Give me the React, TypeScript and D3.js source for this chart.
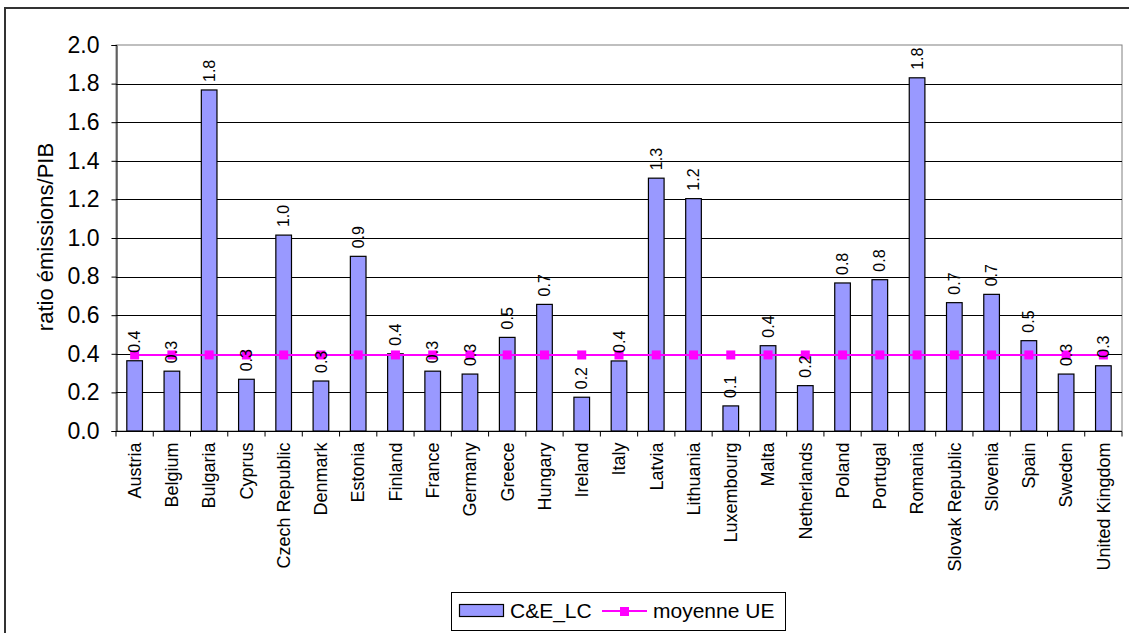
import React, { useEffect, useRef } from 'react';
import * as d3 from 'd3';

const countries = [
  'Austria', 'Belgium', 'Bulgaria', 'Cyprus', 'Czech Republic', 'Denmark', 'Estonia',
  'Finland', 'France', 'Germany', 'Greece', 'Hungary', 'Ireland', 'Italy', 'Latvia',
  'Lithuania', 'Luxembourg', 'Malta', 'Netherlands', 'Poland', 'Portugal', 'Romania',
  'Slovak Republic', 'Slovenia', 'Spain', 'Sweden', 'United Kingdom',
];
const ratioValues = [
  0.364, 0.31, 1.767, 0.268, 1.015, 0.259, 0.905,
  0.4, 0.31, 0.295, 0.485, 0.656, 0.175, 0.363, 1.31,
  1.204, 0.13, 0.442, 0.235, 0.767, 0.784, 1.83,
  0.665, 0.708, 0.468, 0.295, 0.338,
];
const euAverage = countries.map(() => 0.394);
const yTicks = [0, 0.2, 0.4, 0.6, 0.8, 1.0, 1.2, 1.4, 1.6, 1.8, 2.0];

const W = 1129;
const H = 633;
const PLOT = { left: 116, right: 1122, top: 45, bottom: 431 };
const FONT = '"Liberation Sans", Arial, sans-serif';

const App = () => {
  const svgRef = useRef<SVGSVGElement | null>(null);

  useEffect(() => {
    if (!svgRef.current) return;
    const svg = d3.select(svgRef.current);
    svg.selectAll('*').remove();

    const x = d3.scaleBand().domain(countries).range([PLOT.left, PLOT.right]);
    const y = d3.scaleLinear().domain([0, 2]).range([PLOT.bottom, PLOT.top]);
    const barW = x.bandwidth() * 0.42;

    // outer frame
    svg.append('rect')
      .attr('x', 5).attr('y', 8).attr('width', W).attr('height', H)
      .attr('fill', '#fff').attr('stroke', '#333').attr('stroke-width', 2);

    // plot border (grey top/right)
    svg.append('rect')
      .attr('x', PLOT.left).attr('y', PLOT.top)
      .attr('width', PLOT.right - PLOT.left).attr('height', PLOT.bottom - PLOT.top)
      .attr('fill', 'none').attr('stroke', '#808080').attr('stroke-width', 1);

    // gridlines
    svg.append('g').selectAll('line')
      .data(yTicks.slice(1, -1))
      .enter().append('line')
      .attr('x1', PLOT.left).attr('x2', PLOT.right)
      .attr('y1', d => Math.round(y(d)) + 0.5).attr('y2', d => Math.round(y(d)) + 0.5)
      .attr('stroke', '#000').attr('stroke-width', 1);

    // y axis
    const yAxis = d3.axisLeft(y).tickValues(yTicks).tickSize(5).tickPadding(12)
      .tickFormat(d => d3.format('.1f')(d as number));
    const yg = svg.append('g').attr('transform', `translate(${PLOT.left + 0.5},0)`).call(yAxis);
    yg.selectAll('text').attr('font-family', FONT).attr('font-size', 23).attr('fill', '#000');
    yg.selectAll('line,path').attr('stroke', '#000');

    // x axis
    const xg = svg.append('g').attr('transform', `translate(0,${PLOT.bottom + 0.5})`);
    xg.append('line').attr('x1', PLOT.left).attr('x2', PLOT.right).attr('stroke', '#000');
    xg.selectAll('.tick')
      .data(d3.range(countries.length + 1))
      .enter().append('line')
      .attr('x1', i => PLOT.left + i * x.step()).attr('x2', i => PLOT.left + i * x.step())
      .attr('y1', 0).attr('y2', 5).attr('stroke', '#000');
    xg.selectAll('text')
      .data(countries)
      .enter().append('text')
      .attr('transform', d => `translate(${x(d)! + x.bandwidth() / 2},11) rotate(-90)`)
      .attr('text-anchor', 'end')
      .attr('dy', '0.35em')
      .attr('font-family', FONT).attr('font-size', 18)
      .text(d => d);

    // bars
    svg.append('g').selectAll('rect')
      .data(ratioValues)
      .enter().append('rect')
      .attr('x', (d, i) => x(countries[i])! + (x.bandwidth() - barW) / 2)
      .attr('y', d => y(d))
      .attr('width', barW)
      .attr('height', d => y(0) - y(d))
      .attr('fill', '#9999FF').attr('stroke', '#000').attr('stroke-width', 1.2);

    // EU average line + markers
    const line = d3.line<number>()
      .x((d, i) => x(countries[i])! + x.bandwidth() / 2)
      .y(d => y(d));
    svg.append('path').datum(euAverage)
      .attr('d', line).attr('fill', 'none').attr('stroke', '#FF00FF').attr('stroke-width', 2);
    svg.append('g').selectAll('rect')
      .data(euAverage)
      .enter().append('rect')
      .attr('x', (d, i) => x(countries[i])! + x.bandwidth() / 2 - 4.5)
      .attr('y', d => y(d) - 4.5)
      .attr('width', 9).attr('height', 9)
      .attr('fill', '#FF00FF');

    // data labels
    svg.append('g').selectAll('text')
      .data(ratioValues)
      .enter().append('text')
      .attr('transform', (d, i) => `translate(${x(countries[i])! + x.bandwidth() / 2},${y(d) - 8}) rotate(-90)`)
      .attr('text-anchor', 'start')
      .attr('dy', '0.35em')
      .attr('font-family', FONT).attr('font-size', 16)
      .text(d => d3.format('.1f')(d));

    // y axis title
    svg.append('text')
      .attr('transform', `translate(45,237) rotate(-90)`)
      .attr('text-anchor', 'middle')
      .attr('dy', '0.35em')
      .attr('font-family', FONT).attr('font-size', 22)
      .text('ratio émissions/PIB');

    // legend
    const lg = svg.append('g');
    lg.append('rect')
      .attr('x', 451.5).attr('y', 592.5).attr('width', 334).attr('height', 38)
      .attr('fill', '#fff').attr('stroke', '#000').attr('stroke-width', 1);
    lg.append('rect')
      .attr('x', 459.5).attr('y', 604.5).attr('width', 44).attr('height', 12)
      .attr('fill', '#9999FF').attr('stroke', '#000').attr('stroke-width', 1.2);
    lg.append('text')
      .attr('x', 510).attr('y', 618)
      .attr('font-family', FONT).attr('font-size', 21)
      .text('C&E_LC');
    lg.append('line')
      .attr('x1', 602).attr('x2', 647).attr('y1', 611).attr('y2', 611)
      .attr('stroke', '#FF00FF').attr('stroke-width', 2);
    lg.append('rect')
      .attr('x', 620).attr('y', 607).attr('width', 9).attr('height', 9)
      .attr('fill', '#FF00FF');
    lg.append('text')
      .attr('x', 653).attr('y', 618)
      .attr('font-family', FONT).attr('font-size', 21)
      .text('moyenne UE');
  }, []);

  return (
    <svg
      ref={svgRef}
      width={W}
      height={H}
      style={{ position: 'absolute', left: 0, top: 0, background: '#fff' }}
    />
  );
};

export default App;
